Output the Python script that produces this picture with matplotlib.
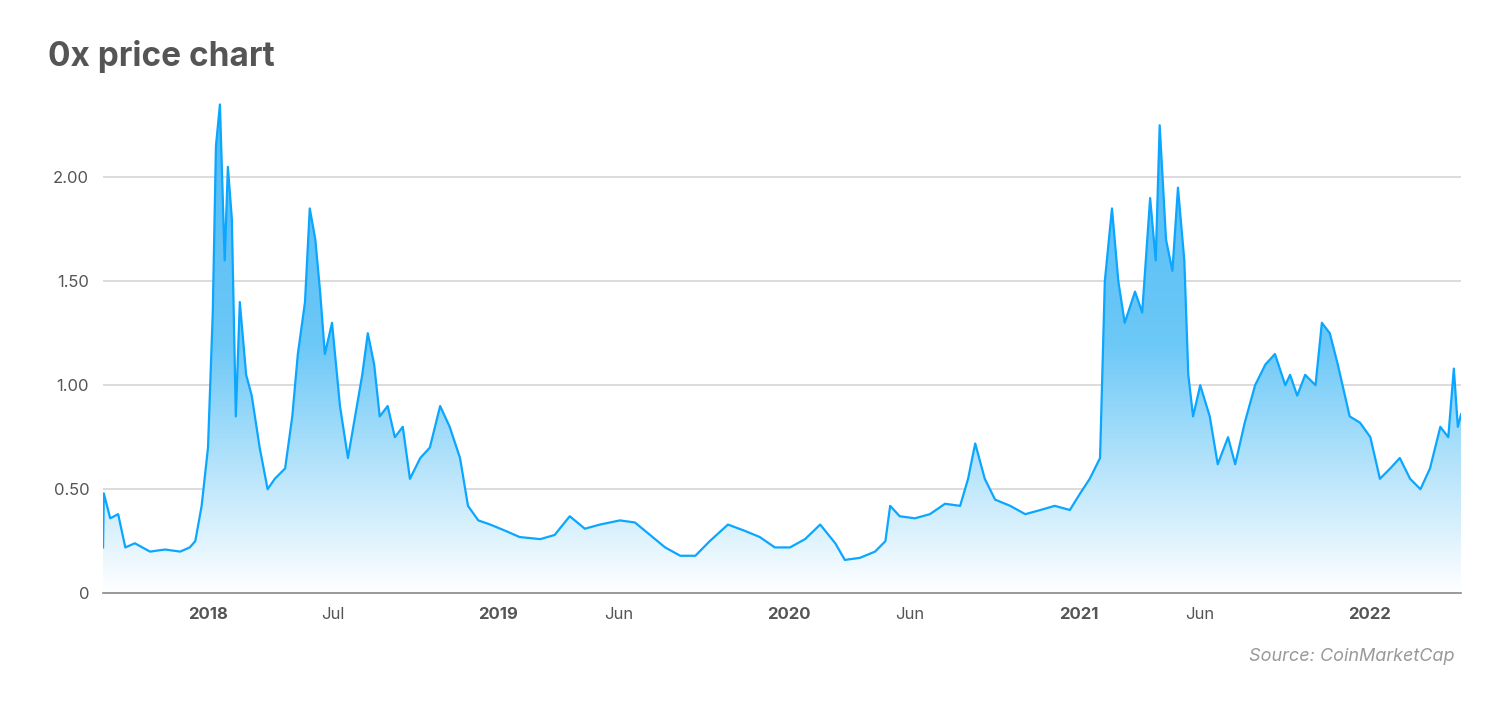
import numpy as np
import pandas as pd
import matplotlib
matplotlib.use("Agg")
import matplotlib.pyplot as plt
import matplotlib.dates as mdates
from matplotlib.colors import LinearSegmentedColormap

# 0x (ZRX) price, USD
dates = [
    "2017-08-22", "2017-08-23", "2017-08-31", "2017-09-10", "2017-09-19", "2017-10-01",
    "2017-10-20", "2017-11-08", "2017-11-27", "2017-12-09", "2017-12-16", "2017-12-24",
    "2018-01-01", "2018-01-07", "2018-01-11", "2018-01-16", "2018-01-22", "2018-01-26",
    "2018-01-31", "2018-02-05", "2018-02-10", "2018-02-18", "2018-02-25", "2018-03-07",
    "2018-03-17", "2018-03-26", "2018-04-08", "2018-04-17", "2018-04-24", "2018-05-03",
    "2018-05-09", "2018-05-16", "2018-05-22", "2018-05-28", "2018-06-06", "2018-06-16",
    "2018-06-26", "2018-07-05", "2018-07-14", "2018-07-21", "2018-07-29", "2018-08-05",
    "2018-08-15", "2018-08-24", "2018-09-03", "2018-09-12", "2018-09-25", "2018-10-07",
    "2018-10-20", "2018-11-01", "2018-11-14", "2018-11-24", "2018-12-07", "2018-12-22",
    "2019-01-10", "2019-01-28", "2019-02-23", "2019-03-13", "2019-04-01", "2019-04-20",
    "2019-05-09", "2019-06-03", "2019-06-22", "2019-07-11", "2019-07-30", "2019-08-18",
    "2019-09-06", "2019-09-24", "2019-10-17", "2019-11-07", "2019-11-26", "2019-12-15",
    "2020-01-03", "2020-01-22", "2020-02-10", "2020-02-29", "2020-03-12", "2020-03-31",
    "2020-04-19", "2020-05-02", "2020-05-08", "2020-05-20", "2020-06-08", "2020-06-27",
    "2020-07-16", "2020-08-04", "2020-08-14", "2020-08-23", "2020-09-04", "2020-09-17",
    "2020-10-06", "2020-10-25", "2020-11-13", "2020-12-01", "2020-12-20", "2021-01-02",
    "2021-01-14", "2021-01-27", "2021-02-02", "2021-02-11", "2021-02-19", "2021-02-27",
    "2021-03-12", "2021-03-21", "2021-03-31", "2021-04-07", "2021-04-12", "2021-04-20",
    "2021-04-28", "2021-05-05", "2021-05-13", "2021-05-18", "2021-05-24", "2021-06-02",
    "2021-06-14", "2021-06-24", "2021-07-07", "2021-07-16", "2021-07-28", "2021-08-10",
    "2021-08-23", "2021-09-04", "2021-09-17", "2021-09-23", "2021-10-02", "2021-10-12",
    "2021-10-25", "2021-11-02", "2021-11-12", "2021-11-22", "2021-12-01", "2021-12-07",
    "2021-12-20", "2022-01-02", "2022-01-14", "2022-01-27", "2022-02-08", "2022-02-21",
    "2022-03-06", "2022-03-18", "2022-03-31", "2022-04-10", "2022-04-17", "2022-04-22",
    "2022-04-26",
]
prices = [
    0.22, 0.48, 0.36, 0.38, 0.22, 0.24,
    0.20, 0.21, 0.20, 0.22, 0.25, 0.42,
    0.70, 1.35, 2.15, 2.35, 1.60, 2.05,
    1.80, 0.85, 1.40, 1.05, 0.95, 0.70,
    0.50, 0.55, 0.60, 0.85, 1.15, 1.40,
    1.85, 1.70, 1.45, 1.15, 1.30, 0.90,
    0.65, 0.85, 1.05, 1.25, 1.10, 0.85,
    0.90, 0.75, 0.80, 0.55, 0.65, 0.70,
    0.90, 0.80, 0.65, 0.42, 0.35, 0.33,
    0.30, 0.27, 0.26, 0.28, 0.37, 0.31,
    0.33, 0.35, 0.34, 0.28, 0.22, 0.18,
    0.18, 0.25, 0.33, 0.30, 0.27, 0.22,
    0.22, 0.26, 0.33, 0.24, 0.16, 0.17,
    0.20, 0.25, 0.42, 0.37, 0.36, 0.38,
    0.43, 0.42, 0.55, 0.72, 0.55, 0.45,
    0.42, 0.38, 0.40, 0.42, 0.40, 0.48,
    0.55, 0.65, 1.50, 1.85, 1.50, 1.30,
    1.45, 1.35, 1.90, 1.60, 2.25, 1.70,
    1.55, 1.95, 1.60, 1.05, 0.85, 1.00,
    0.85, 0.62, 0.75, 0.62, 0.82, 1.00,
    1.10, 1.15, 1.00, 1.05, 0.95, 1.05,
    1.00, 1.30, 1.25, 1.10, 0.95, 0.85,
    0.82, 0.75, 0.55, 0.60, 0.65, 0.55,
    0.50, 0.60, 0.80, 0.75, 1.08, 0.80,
    0.86,
]

# tick positions as they sit in the reference
x_ticks = ["2018-01-01", "2018-06-07", "2019-01-01", "2019-06-01", "2020-01-01",
           "2020-06-01", "2021-01-01", "2021-06-01", "2022-01-01"]
x_labels = ["2018", "Jul", "2019", "Jun", "2020", "Jun", "2021", "Jun", "2022"]
y_ticks = [0, 0.5, 1.0, 1.5, 2.0]
y_labels = ["0", "0.50", "1.00", "1.50", "2.00"]

LINE = "#0aa6ff"
TEXT = "#555555"

plt.rcParams["font.family"] = "Inter"

x = mdates.date2num(pd.to_datetime(dates))
y = np.array(prices)

fig = plt.figure(figsize=(15, 7.02), dpi=100)
ax = fig.add_axes([0.0687, 0.155, 0.9053, 0.711])

ymax = 2.4
ax.set_xlim(x[0], x[-1])
ax.set_ylim(0, ymax)

# gradient fill under the line
cmap = LinearSegmentedColormap.from_list("g", ["#ffffff", "#6cc8f7", "#4fbaf5"])
grad = np.linspace(0, 1, 256).reshape(-1, 1)
img = ax.imshow(grad, cmap=cmap, aspect="auto", origin="lower",
                extent=[x[0], x[-1], 0, ymax], zorder=1, vmin=0, vmax=1)
poly = ax.fill_between(x, y, 0, color="none")
clip = poly.get_paths()[0]
img.set_clip_path(clip, transform=ax.transData)

ax.plot(x, y, color=LINE, linewidth=1.6, zorder=3)

ax.set_yticks(y_ticks)
ax.set_yticklabels(y_labels, fontsize=12, color=TEXT)
ax.set_xticks(mdates.date2num(pd.to_datetime(x_ticks)))
ax.set_xticklabels(x_labels, fontsize=12, color=TEXT)
for lab in ax.get_xticklabels():
    if lab.get_text().isdigit():
        lab.set_fontweight("bold")
ax.tick_params(length=0, pad=10)
ax.grid(axis="y", color="#d5d5d5", linewidth=1.2, zorder=0)
for s in ["top", "right", "left"]:
    ax.spines[s].set_visible(False)
ax.spines["bottom"].set_color("#888888")
ax.spines["bottom"].set_linewidth(1.2)
ax.set_axisbelow(True)

fig.text(0.032, 0.92, "0x price chart", fontsize=24, fontweight="bold",
         color=TEXT, ha="left", va="center")
fig.text(0.97, 0.065, "Source: CoinMarketCap", fontsize=13, style="italic",
         color="#999999", ha="right", va="center")

fig.savefig("out.png", dpi=100, facecolor="white")
